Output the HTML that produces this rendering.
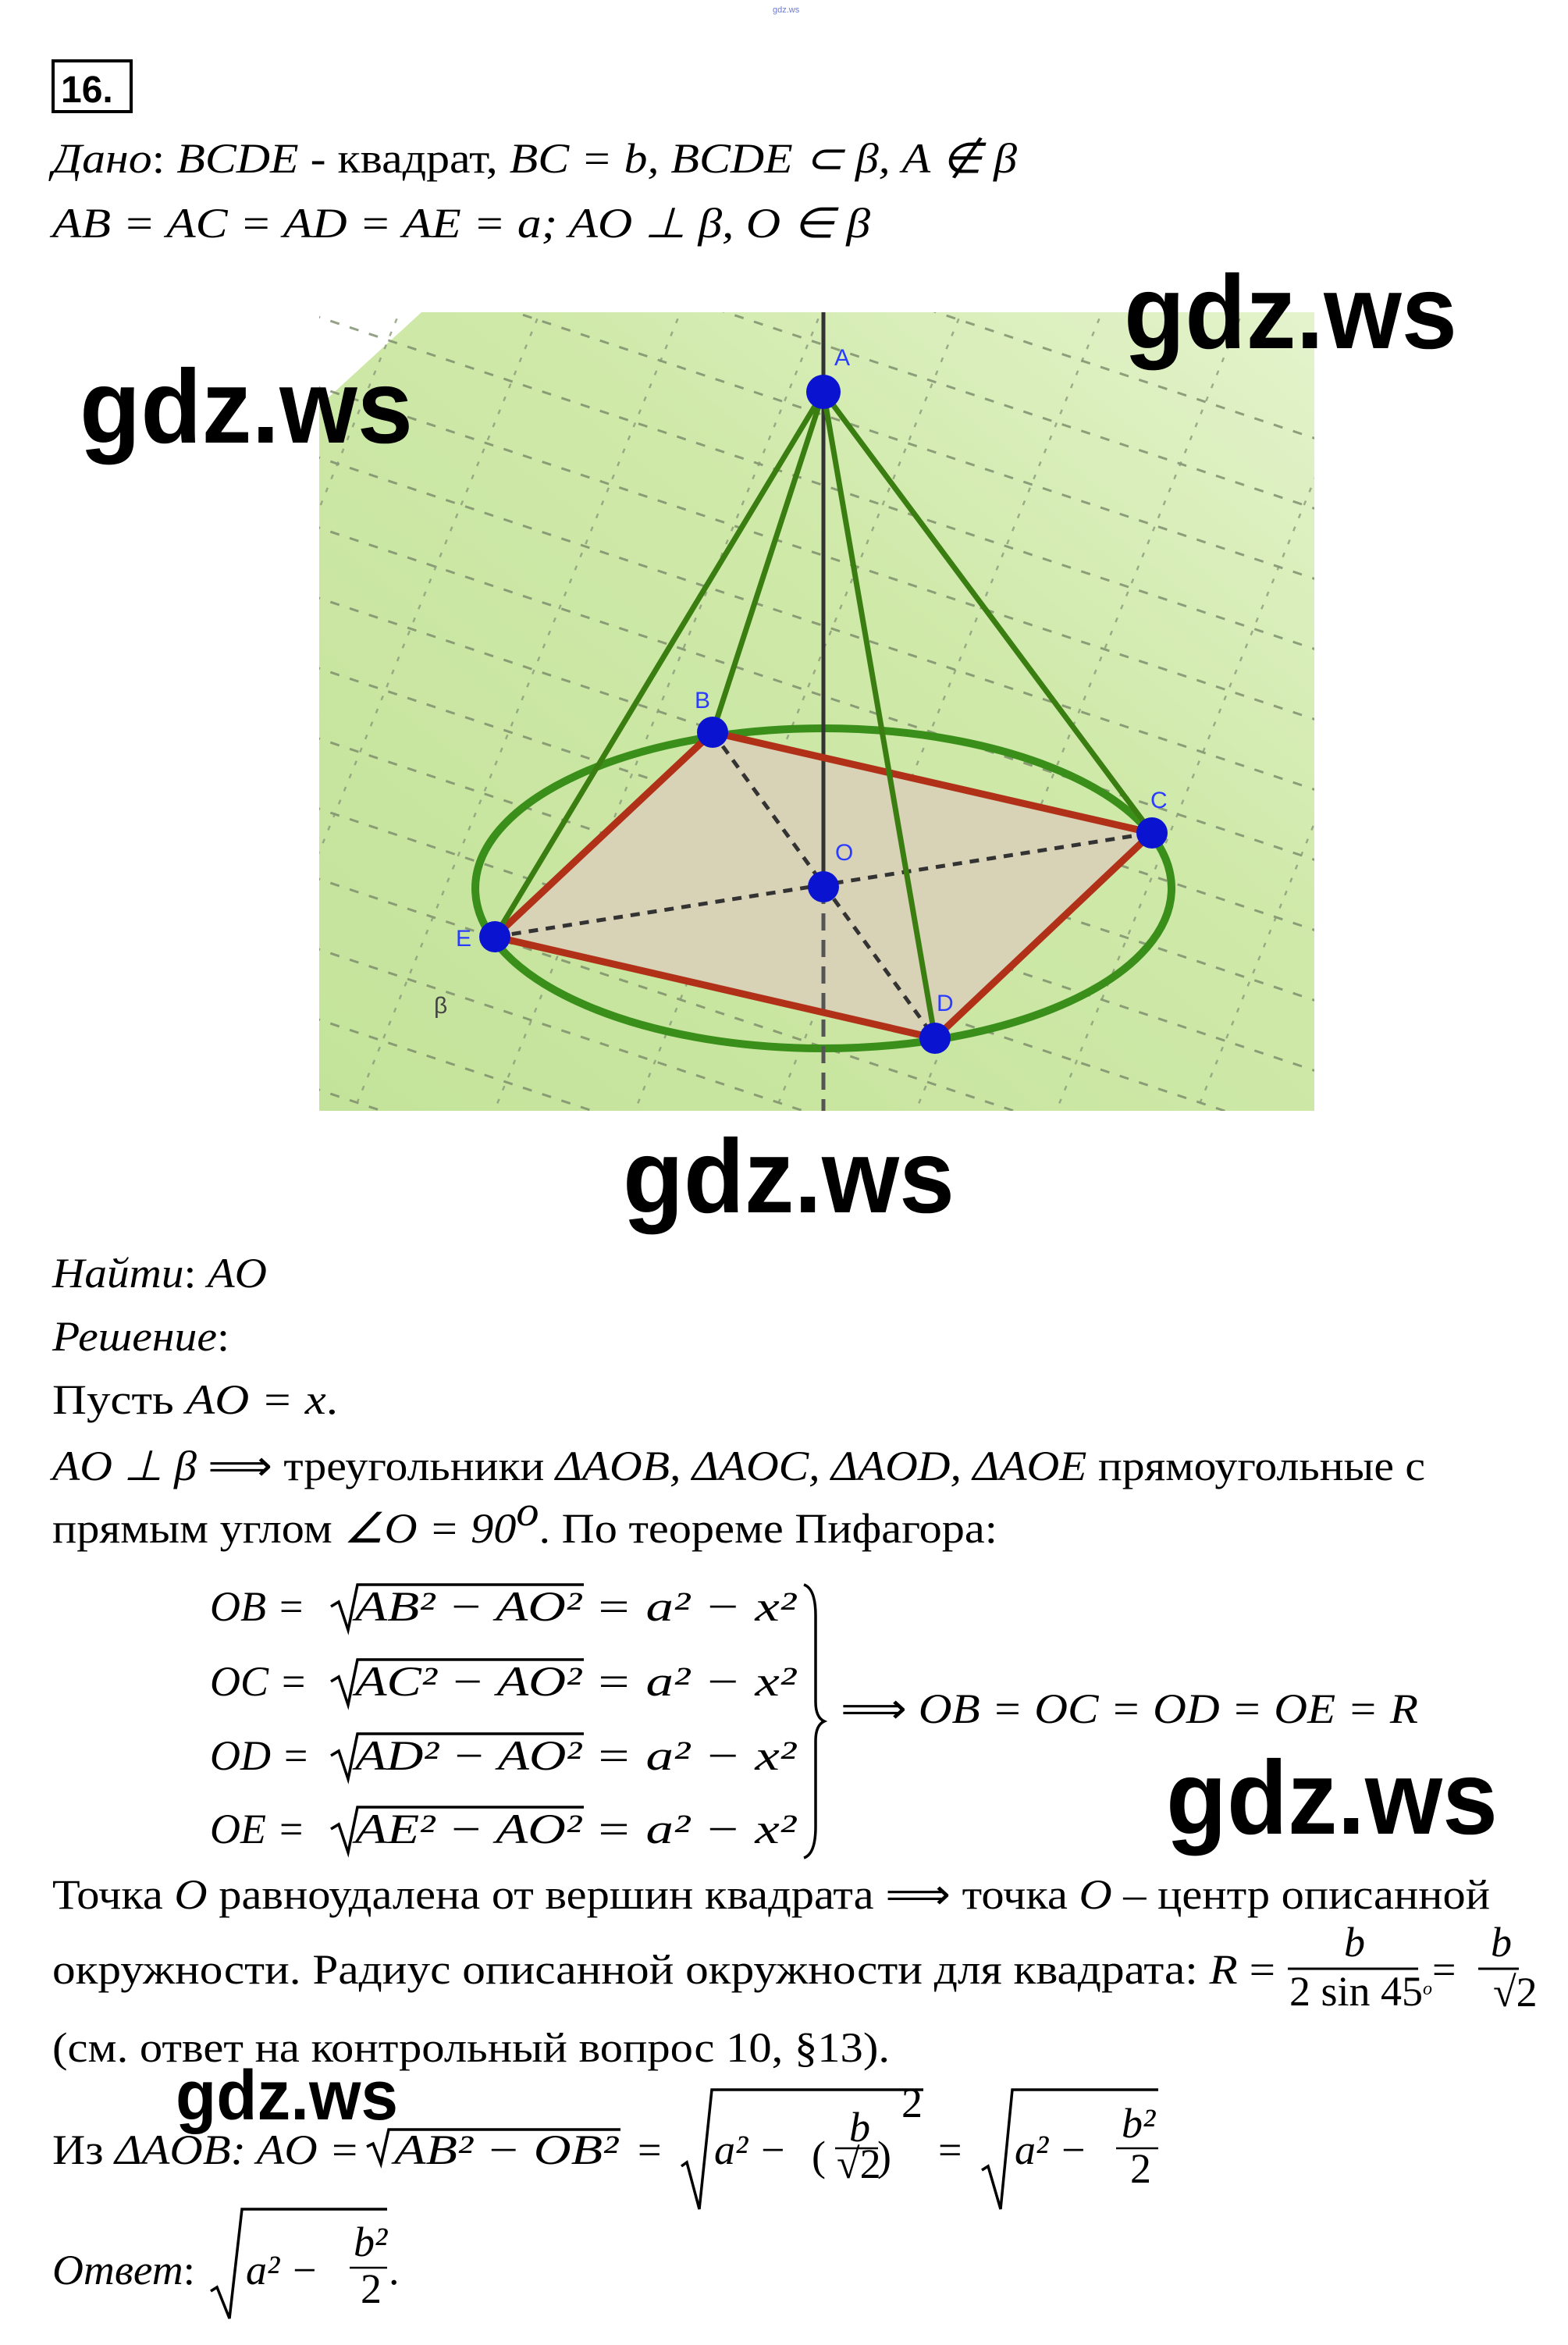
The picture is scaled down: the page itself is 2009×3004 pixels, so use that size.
<!DOCTYPE html>
<html><head><meta charset="utf-8"><style>
html,body{margin:0;padding:0;background:#fff}
svg{display:block}
.t{font-family:"Liberation Serif",serif;font-size:54px;fill:#000}
.m{font-family:"Liberation Serif",serif;font-style:italic;font-size:54px;fill:#000}
.w{font-family:"Liberation Sans",sans-serif;font-weight:bold;fill:#000}
.l{font-family:"Liberation Sans",sans-serif;font-size:30px;fill:#2a3cff}
</style></head><body>
<svg width="2009" height="3004" viewBox="0 0 2009 3004" xmlns="http://www.w3.org/2000/svg">
<defs>
<linearGradient id="bg" x1="0" y1="1" x2="1" y2="0">
<stop offset="0" stop-color="#c4e39a"/><stop offset="0.6" stop-color="#cfe9a9"/><stop offset="1" stop-color="#e4f3cc"/>
</linearGradient>
<clipPath id="pc"><rect x="409" y="400" width="1275" height="1023"/></clipPath>
</defs>
<text x="990" y="16" font-family="Liberation Sans" font-size="11" fill="#6a7ad0">gdz.ws</text>
<rect x="68" y="78" width="100" height="65" fill="none" stroke="#000" stroke-width="4"/>
<text x="78" y="131" font-family="Liberation Sans" font-weight="bold" font-size="48">16.</text>
<text y="221" class="t" x="67" textLength="1236" lengthAdjust="spacingAndGlyphs"><tspan class="m">Дано</tspan>: <tspan class="m">BCDE</tspan> - квадрат, <tspan class="m">BC = b, BCDE ⊂ β,  A ∉ β</tspan></text>
<text y="304" class="m" x="67" textLength="1048" lengthAdjust="spacingAndGlyphs">AB = AC = AD = AE = a;  AO ⊥ β, O ∈ β</text>

<g clip-path="url(#pc)">
<polygon points="409,1423 409,520 540,400 1684,400 1684,1423" fill="url(#bg)"/>
<g stroke="#7a8a6a" stroke-width="3" stroke-dasharray="12,14" opacity="0.8">
<line x1="300" y1="280" x2="1800" y2="780"/>
<line x1="300" y1="370" x2="1800" y2="870"/>
<line x1="300" y1="460" x2="1800" y2="960"/>
<line x1="300" y1="550" x2="1800" y2="1050"/>
<line x1="300" y1="640" x2="1800" y2="1140"/>
<line x1="300" y1="730" x2="1800" y2="1230"/>
<line x1="300" y1="820" x2="1800" y2="1320"/>
<line x1="300" y1="910" x2="1800" y2="1410"/>
<line x1="300" y1="1000" x2="1800" y2="1500"/>
<line x1="300" y1="1090" x2="1800" y2="1590"/>
<line x1="300" y1="1180" x2="1800" y2="1680"/>
<line x1="300" y1="1270" x2="1800" y2="1770"/>
<line x1="300" y1="1360" x2="1800" y2="1860"/>
<line x1="300" y1="190" x2="1800" y2="690"/>
<line x1="300" y1="100" x2="1800" y2="600"/>
</g>
<g stroke="#8a9a7a" stroke-width="2.5" stroke-dasharray="6,12" opacity="0.8">
<line x1="250" y1="1480" x2="700" y2="380"/>
<line x1="430" y1="1480" x2="880" y2="380"/>
<line x1="610" y1="1480" x2="1060" y2="380"/>
<line x1="790" y1="1480" x2="1240" y2="380"/>
<line x1="970" y1="1480" x2="1420" y2="380"/>
<line x1="1150" y1="1480" x2="1600" y2="380"/>
<line x1="1330" y1="1480" x2="1780" y2="380"/>
<line x1="1510" y1="1480" x2="1960" y2="380"/>
<line x1="70" y1="1480" x2="520" y2="380"/>
</g>
</g>
<polygon points="913,938 1476,1067 1198,1330 634,1200" fill="#d8d2b6"/>
<ellipse cx="1055" cy="1138" rx="446" ry="205" fill="none" stroke="#3a8f1a" stroke-width="10"/>
<line x1="1055" y1="400" x2="1055" y2="1136" stroke="#333" stroke-width="5"/>
<line x1="1055" y1="1136" x2="1055" y2="1423" stroke="#555" stroke-width="5" stroke-dasharray="22,12"/>
<g stroke="#333" stroke-width="5" stroke-dasharray="12,10">
<line x1="913" y1="938" x2="1198" y2="1330"/>
<line x1="634" y1="1200" x2="1476" y2="1067"/>
</g>
<g stroke="#b03018" stroke-width="9" fill="none">
<polygon points="913,938 1476,1067 1198,1330 634,1200"/>
</g>
<g stroke="#3a7e12" stroke-width="7">
<line x1="1055" y1="502" x2="913" y2="938"/>
<line x1="1055" y1="502" x2="1476" y2="1067"/>
<line x1="1055" y1="502" x2="1198" y2="1330"/>
<line x1="1055" y1="502" x2="634" y2="1200"/>
</g>
<g fill="#0a14d0">
<circle cx="1055" cy="502" r="22"/>
<circle cx="913" cy="938" r="20"/>
<circle cx="1476" cy="1067" r="20"/>
<circle cx="1198" cy="1330" r="20"/>
<circle cx="634" cy="1200" r="20"/>
<circle cx="1055" cy="1136" r="20"/>
</g>
<text class="l" x="1069" y="468">A</text>
<text class="l" x="890" y="907">B</text>
<text class="l" x="1474" y="1035">C</text>
<text class="l" x="1200" y="1295">D</text>
<text class="l" x="584" y="1212">E</text>
<text class="l" x="1070" y="1102">O</text>
<text x="556" y="1298" font-family="Liberation Sans" font-size="30" fill="#444">β</text>

<text class="w" x="1440" y="446" font-size="134" textLength="427" lengthAdjust="spacingAndGlyphs">gdz.ws</text>
<text class="w" x="102" y="567" font-size="134" textLength="427" lengthAdjust="spacingAndGlyphs">gdz.ws</text>
<text class="w" x="798" y="1553" font-size="134" textLength="425" lengthAdjust="spacingAndGlyphs">gdz.ws</text>

<text class="m" x="67" y="1649" textLength="275" lengthAdjust="spacingAndGlyphs">Найти<tspan font-style="normal">:</tspan> AO</text>
<text class="m" x="67" y="1730" textLength="227" lengthAdjust="spacingAndGlyphs">Решение<tspan font-style="normal">:</tspan></text>
<text class="t" x="67" y="1811" textLength="366" lengthAdjust="spacingAndGlyphs">Пусть <tspan class="m">AO = x</tspan>.</text>
<text class="t" x="67" y="1896" textLength="1759" lengthAdjust="spacingAndGlyphs"><tspan class="m">AO ⊥ β</tspan> ⟹ треугольники <tspan class="m">ΔAOB, ΔAOC, ΔAOD, ΔAOE</tspan> прямоугольные с</text>
<text class="t" x="67" y="1976" textLength="1211" lengthAdjust="spacingAndGlyphs">прямым углом <tspan class="m">∠O = 90</tspan><tspan class="m" font-size="34" dy="-22">o</tspan><tspan dy="22">. По теореме Пифагора:</tspan></text>

<g class="m">
<text class="m" x="269" y="2076">OB =</text><text class="m" x="455" y="2076" textLength="290" lengthAdjust="spacingAndGlyphs">AB² − AO²</text><text class="m" x="762" y="2076" textLength="258" lengthAdjust="spacingAndGlyphs">= a² − x²</text>
<text class="m" x="269" y="2172">OC =</text><text class="m" x="455" y="2172" textLength="290" lengthAdjust="spacingAndGlyphs">AC² − AO²</text><text class="m" x="762" y="2172" textLength="258" lengthAdjust="spacingAndGlyphs">= a² − x²</text>
<text class="m" x="269" y="2267">OD =</text><text class="m" x="455" y="2267" textLength="290" lengthAdjust="spacingAndGlyphs">AD² − AO²</text><text class="m" x="762" y="2267" textLength="258" lengthAdjust="spacingAndGlyphs">= a² − x²</text>
<text class="m" x="269" y="2361">OE =</text><text class="m" x="455" y="2361" textLength="290" lengthAdjust="spacingAndGlyphs">AE² − AO²</text><text class="m" x="762" y="2361" textLength="258" lengthAdjust="spacingAndGlyphs">= a² − x²</text>
</g>
<g fill="none" stroke="#000" stroke-width="3.5">
<path d="M424,2058 L434,2052 L446,2088 L458,2030 L748,2030"/>
<path d="M424,2154 L434,2148 L446,2184 L458,2126 L748,2126"/>
<path d="M424,2249 L434,2243 L446,2279 L458,2221 L748,2221"/>
<path d="M424,2343 L434,2337 L446,2373 L458,2315 L748,2315"/>
<path d="M1030,2030 Q1045,2035 1045,2070 L1045,2180 Q1045,2200 1056,2205 Q1045,2210 1045,2230 L1045,2340 Q1045,2375 1030,2380"/>
</g>
<text class="m" x="1077" y="2207" textLength="740" lengthAdjust="spacingAndGlyphs"><tspan font-style="normal">⟹</tspan> OB = OC = OD = OE = R</text>
<text class="w" x="1494" y="2349" font-size="134" textLength="425" lengthAdjust="spacingAndGlyphs">gdz.ws</text>

<text class="t" x="67" y="2445" textLength="1842" lengthAdjust="spacingAndGlyphs">Точка <tspan class="m">O</tspan> равноудалена от вершин квадрата ⟹ точка <tspan class="m">O</tspan> – центр описанной</text>
<text class="t" x="67" y="2541" textLength="1567" lengthAdjust="spacingAndGlyphs">окружности. Радиус описанной окружности для квадрата: <tspan class="m">R</tspan> =</text>
<text class="m" x="1722" y="2506" font-size="38">b</text>
<line x1="1650" y1="2522" x2="1817" y2="2522" stroke="#000" stroke-width="3"/>
<text class="t" x="1652" y="2569" font-size="38" font-family="Liberation Sans">2 sin 45<tspan font-size="24" dy="-14" font-style="italic">o</tspan></text>
<text class="t" x="1835" y="2541">=</text>
<text class="m" x="1910" y="2506" font-size="38">b</text>
<line x1="1894" y1="2522" x2="1946" y2="2522" stroke="#000" stroke-width="3"/>
<text class="t" x="1913" y="2570" font-size="36">√2</text>

<text class="t" x="67" y="2641" textLength="1073" lengthAdjust="spacingAndGlyphs">(см. ответ на контрольный вопрос 10, §13).</text>
<text class="w" x="225" y="2715" font-size="90" textLength="285" lengthAdjust="spacingAndGlyphs">gdz.ws</text>

<text class="t" x="67" y="2772" textLength="394" lengthAdjust="spacingAndGlyphs">Из <tspan class="m">ΔAOB: AO =</tspan></text>
<path d="M470,2750 L478,2746 L488,2772 L498,2728 L795,2728" fill="none" stroke="#000" stroke-width="3.5"/>
<text class="m" x="505" y="2772" textLength="287" lengthAdjust="spacingAndGlyphs">AB² − OB²</text>
<text class="t" x="817" y="2772">=</text>
<path d="M873,2775 L880,2770 L896,2830 L912,2677 L1183,2677" fill="none" stroke="#000" stroke-width="3.5"/>
<text class="m" x="915" y="2772">a² −</text>
<text class="t" x="1040" y="2780" font-size="80">(</text>
<text class="m" x="1088" y="2743" font-size="36">b</text>
<line x1="1070" y1="2752" x2="1125" y2="2752" stroke="#000" stroke-width="2.5"/>
<text class="t" x="1072" y="2790" font-size="34">√2</text>
<text class="t" x="1124" y="2780" font-size="80">)</text><text class="t" x="1155" y="2712" font-size="36">2</text>
<text class="t" x="1202" y="2772">=</text>
<path d="M1258,2780 L1266,2775 L1282,2830 L1297,2677 L1484,2677" fill="none" stroke="#000" stroke-width="3.5"/>
<text class="m" x="1300" y="2772">a² −</text>
<text class="m" x="1437" y="2738" font-size="36">b²</text>
<line x1="1430" y1="2752" x2="1484" y2="2752" stroke="#000" stroke-width="2.5"/>
<text class="t" x="1448" y="2796" font-size="36">2</text>

<text class="m" x="67" y="2926" textLength="183" lengthAdjust="spacingAndGlyphs">Ответ<tspan font-style="normal">:</tspan></text>
<path d="M270,2935 L278,2930 L294,2970 L310,2830 L496,2830" fill="none" stroke="#000" stroke-width="3.5"/>
<text class="m" x="315" y="2926">a² −</text>
<text class="m" x="453" y="2890" font-size="36">b²</text>
<line x1="448" y1="2905" x2="496" y2="2905" stroke="#000" stroke-width="2.5"/>
<text class="t" x="462" y="2950" font-size="36">2</text>
<text class="t" x="498" y="2926">.</text>
</svg>
</body></html>
